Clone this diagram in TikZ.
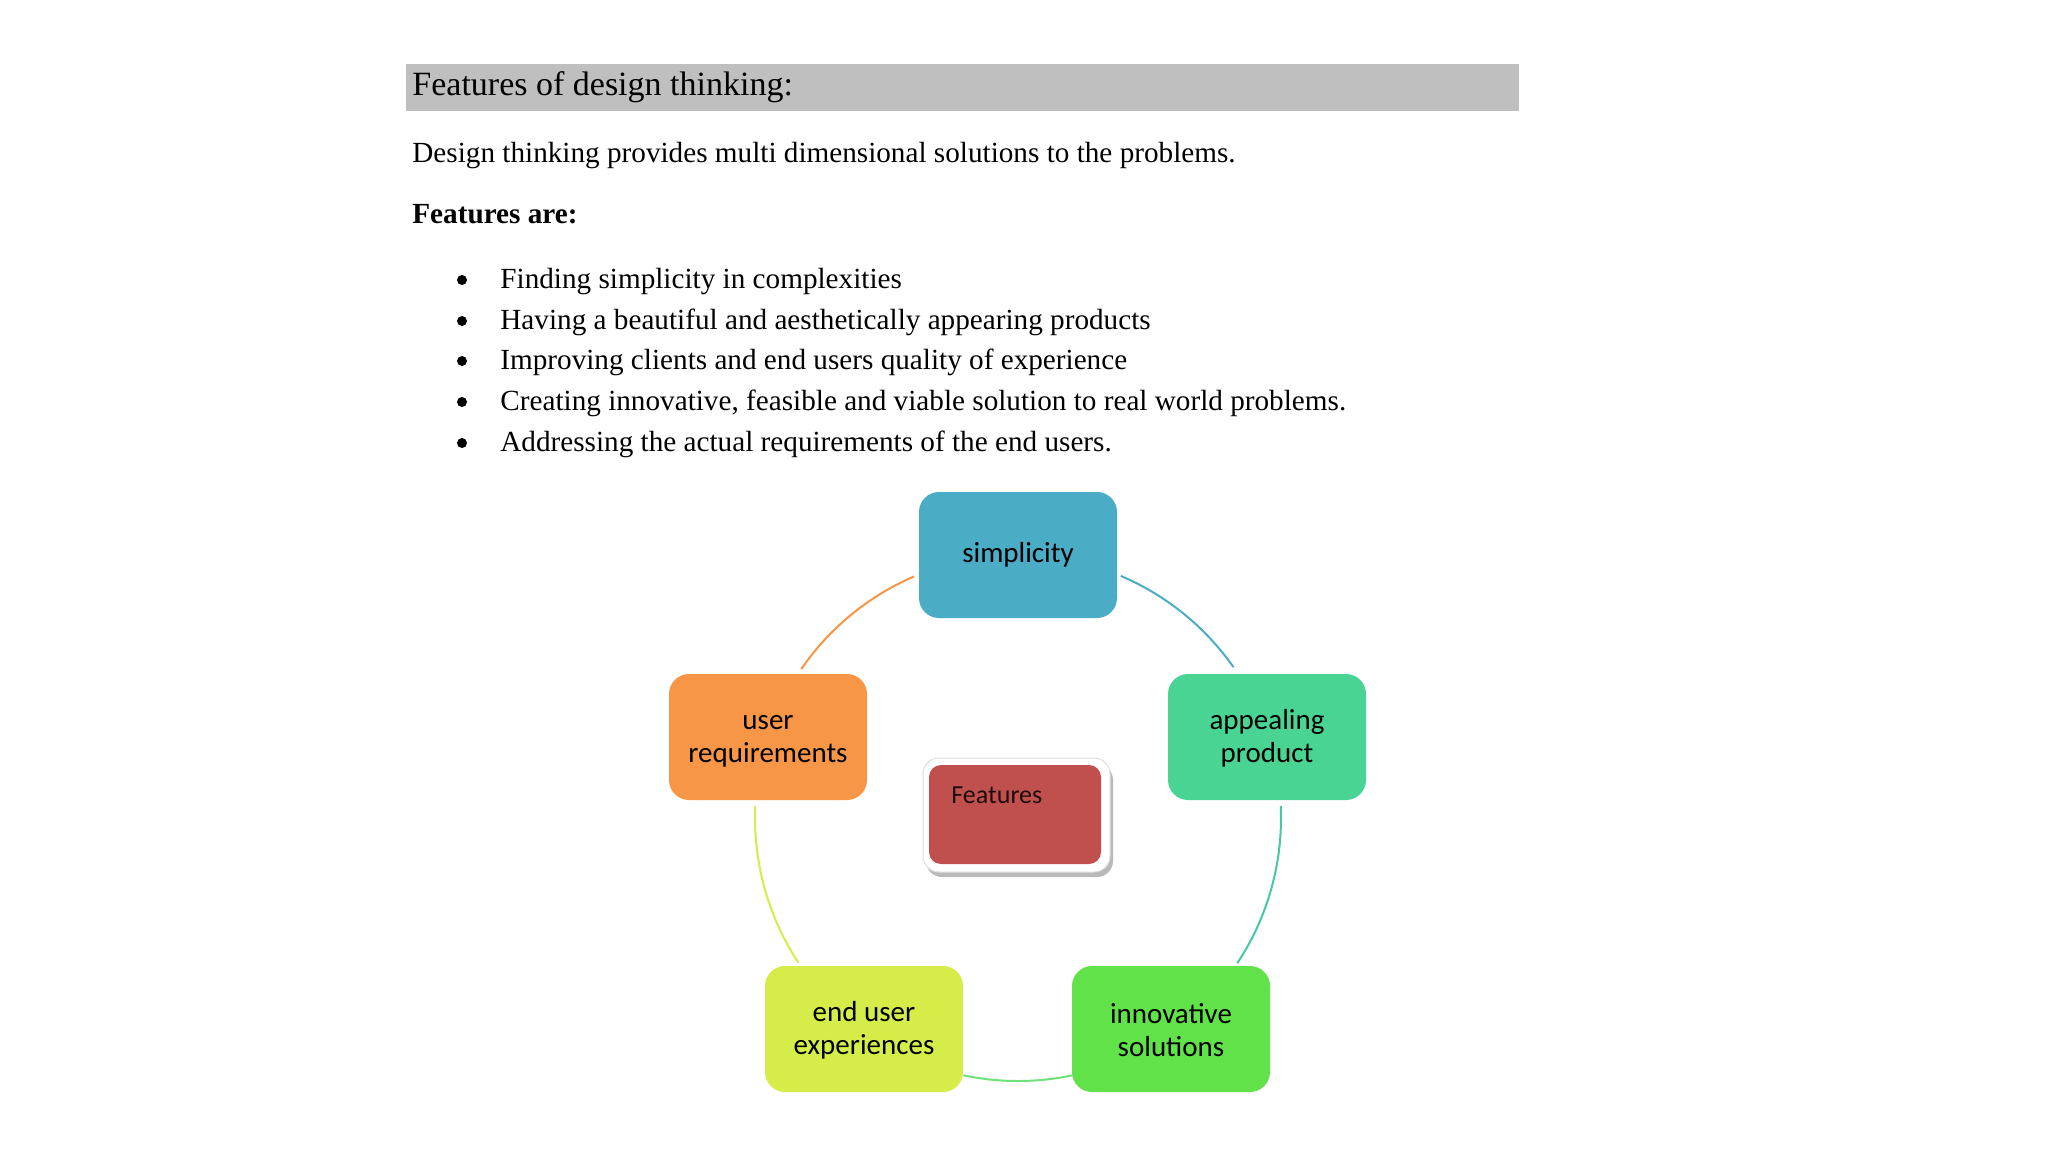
\documentclass[tikz,border=0pt]{standalone}
\usepackage{fontspec}
\setmainfont{Liberation Serif}
\newfontfamily\calibri{Carlito}
\definecolor{hdrgray}{RGB}{191,191,191}
\definecolor{cblue}{RGB}{75,172,198}
\definecolor{cmint}{RGB}{74,212,148}
\definecolor{cteal}{RGB}{70,200,165}
\definecolor{cgreen}{RGB}{96,226,72}
\definecolor{cgreenarc}{RGB}{110,226,120}
\definecolor{cyellow}{RGB}{214,236,72}
\definecolor{corange}{RGB}{247,150,70}
\definecolor{cred}{RGB}{192,80,77}
\definecolor{frameedge}{RGB}{222,222,222}
\definecolor{shadowgray}{RGB}{185,185,185}
\newcommand{\toppad}{\rule{0pt}{11pt}}
\begin{document}
\begin{tikzpicture}[x=0.5pt,y=-0.5pt,
  txt/.style={anchor=base west, inner sep=0, font=\fontsize{14.6}{17}\selectfont},
  hdrtxt/.style={anchor=base west, inner sep=0, font=\fontsize{17}{20}\selectfont},
  bulletdot/.style={circle, fill=black, inner sep=0, minimum size=5pt},
  cyclebox/.style={rounded corners=10pt, minimum width=99pt, minimum height=63pt,
    align=center, inner sep=0, text=black, font=\calibri\fontsize{14.5}{16.5}\selectfont},
  arcline/.style={line width=1pt}]
\useasboundingbox (0,0) rectangle (2048,1152);
\fill[white] (0,0) rectangle (2048,1152);

% header
\fill[hdrgray] (406,64) rectangle (1519,111);
\node[hdrtxt] (hdr) at (412,95) {Features of design thinking:};
\node[txt] (intro) at (412,162) {Design thinking provides multi dimensional solutions to the problems.};
\node[txt, font=\bfseries\fontsize{14.6}{17}\selectfont] (are) at (412,223) {Features are:};

% bullets
\foreach \yy/\t [count=\i] in {288/{Finding simplicity in complexities},
  329/{Having a beautiful and aesthetically appearing products},
  369/{Improving clients and end users quality of experience},
  410/{Creating innovative, feasible and viable solution to real world problems.},
  451/{Addressing the actual requirements of the end users.}}{
  \node[bulletdot] (b\i) at (462,\yy-8) {};
  \node[txt] (item\i) at (500,\yy) {\t};
}

% cycle
\coordinate (c) at (1018,818);
\node[cyclebox, fill=cblue] (simp) at (1018,555) {simplicity};
\node[cyclebox, fill=cmint] (appe) at (1267,737) {\toppad appealing\\product};
\node[cyclebox, fill=cgreen] (inno) at (1171,1029) {\toppad innovative\\solutions};
\node[cyclebox, fill=cyellow] (endu) at (864,1029) {\toppad end user\\experiences};
\node[cyclebox, fill=corange] (user) at (768,737) {\toppad user\\requirements};

\draw[arcline, cblue] (c) ++(-67:263) arc[start angle=-67, end angle=-35, radius=263];
\draw[arcline, cteal] (c) ++(-2.6:263) arc[start angle=-2.6, end angle=33.5, radius=263];
\draw[arcline, cgreenarc] (c) ++(78:263) arc[start angle=78, end angle=102, radius=263];
\draw[arcline, cyellow] (c) ++(146.6:263) arc[start angle=146.6, end angle=182.6, radius=263];
\draw[arcline, corange] (c) ++(-145.5:263) arc[start angle=-145.5, end angle=-113.3, radius=263];

% central Features box
\fill[shadowgray, rounded corners=8pt] (926,764) rectangle (1113,877);
\draw[frameedge, fill=white, line width=0.5pt, rounded corners=8pt] (923,758) rectangle (1110,872);
\fill[cred, rounded corners=6pt] (929,765) rectangle (1101,864);
\node[anchor=base west, inner sep=0, text=black!85!cred, font=\calibri\fontsize{13}{15}\selectfont] (feat) at (951,803) {Features};
\end{tikzpicture}
\end{document}
